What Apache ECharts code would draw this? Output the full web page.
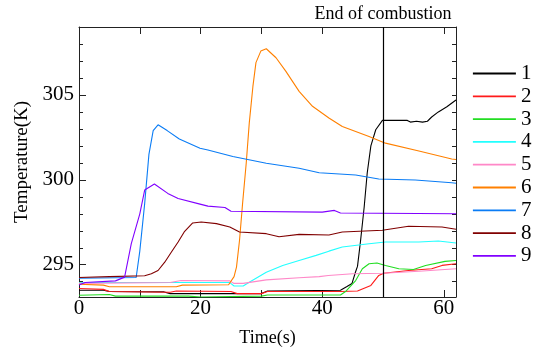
<!DOCTYPE html>
<html>
<head>
<meta charset="utf-8">
<script src="https://cdn.jsdelivr.net/npm/echarts@6/dist/echarts.min.js"></script>
<style>
  html, body { margin: 0; padding: 0; background: #fff; }
  #chart { width: 534px; height: 356px; }
</style>
</head>
<body>
<div id="chart"></div>
<script>
// Temperature traces, [time (s), temperature (K)]
const s1 = [[0,293.5],[4,293.5],[5,293.42],[14,293.4],[15,293.3],[30,293.3],[31,293.45],[43,293.5],[44,293.7],[44.9,293.9],[45.5,294.6],[45.8,294.9],[46.3,296.4],[46.9,298.4],[47.4,300.4],[48,302],[48.8,302.95],[49.9,303.5],[54,303.5],[54.5,303.4],[55.5,303.45],[56.5,303.4],[57.3,303.45],[58,303.7],[59.1,304.0],[60.5,304.3],[62,304.7]];
const s2 = [[0,293.6],[4,293.55],[5,293.42],[15,293.38],[16,293.45],[25,293.42],[26,293.3],[30,293.3],[31,293.42],[43,293.42],[45.8,293.45],[48,293.78],[49.3,294.37],[50.1,294.5],[54.2,294.66],[58,294.76],[59.7,294.96],[62,295.06]];
const s3 = [[0,293.2],[5,293.25],[6,293.15],[18,293.15],[20,293.1],[30,293.15],[31,293.22],[43,293.22],[43.9,293.44],[45.5,294.07],[46.6,294.76],[47.7,295.06],[49,295.1],[50.4,294.96],[52.6,294.76],[55,294.72],[57,294.96],[60.2,295.2],[62,295.25]];
const s4 = [[0,293.95],[24.8,293.95],[25.5,293.75],[27,293.75],[28,293.97],[30.8,294.56],[33.5,294.96],[36.2,295.25],[39,295.55],[41.1,295.8],[43.3,296.04],[47.7,296.24],[50.4,296.34],[55.9,296.34],[59.1,296.4],[62,296.28]];
const s5 = [[0,293.9],[15,293.95],[16.8,294.07],[24.8,294.05],[25.5,293.9],[27,293.9],[30.8,294.11],[36.2,294.23],[39.5,294.3],[41,294.37],[45,294.47],[49.9,294.5],[55.9,294.62],[62,294.76]];
const s6 = [[0,293.85],[4,293.8],[5,293.7],[16,293.7],[17,293.8],[24.6,293.82],[25.5,294.3],[25.9,294.86],[26.4,296.44],[26.9,298.6],[27.5,300.98],[28,303.34],[28.6,305.5],[29.1,306.9],[29.9,307.58],[30.8,307.72],[32.4,307.19],[34,306.4],[36.2,305.21],[38.4,304.33],[41.1,303.64],[43.3,303.14],[47.7,302.55],[50.4,302.16],[55.9,301.7],[61.3,301.23],[62,301.2]];
const s7 = [[0,294.2],[9.4,294.25],[10,295.8],[10.8,298.6],[11.5,301.5],[12.2,302.9],[13,303.24],[14.5,302.9],[16.5,302.4],[19.9,301.86],[21.2,301.76],[25.3,301.37],[30.8,300.98],[36.2,300.68],[39.5,300.42],[45.5,300.28],[49.3,300.05],[55.3,299.99],[61.3,299.83],[62,299.8]];
const s8 = [[0,294.25],[5,294.3],[10.8,294.35],[11.9,294.47],[13,294.66],[14.1,295.15],[15.2,295.75],[16.3,296.34],[17.3,296.93],[18.7,297.46],[20.1,297.52],[22.6,297.42],[24.8,297.22],[26.4,296.93],[30.8,296.83],[32.9,296.65],[36.2,296.79],[41.1,296.75],[43.3,296.93],[49.9,297.03],[54.2,297.27],[59.7,297.22],[62,297.09]];
const s9 = [[0,293.8],[1,293.95],[6,294.05],[7.5,294.27],[8.6,296.24],[10,298.0],[10.8,299.4],[12.4,299.75],[14.6,299.2],[16.3,298.9],[19.9,298.57],[21.2,298.45],[24,298.37],[25,298.15],[40,298.1],[42,298.2],[43,298.05],[62,298.0]];

const seriesNames = ['1', '2', '3', '4', '5', '6', '7', '8', '9'];
const seriesData = [s1, s2, s3, s4, s5, s6, s7, s8, s9];
const seriesColors = ['#000000', '#ff1a1a', '#22dd22', '#22ffff', '#ff88c8', '#ff8000', '#0a7cf5', '#800000', '#8000ff'];

const yMajor = [295, 300, 305];
const yMinor = [294, 296, 297, 298, 299, 301, 302, 303, 304, 306, 307, 308];
const combustionEnd = 50;

const font = 'Liberation Serif';
const frame = '#222';

const chart = echarts.init(document.getElementById('chart'));

const series = seriesNames.map((name, i) => {
  const s = {
    name,
    type: 'line',
    data: seriesData[i],
    symbol: 'none',
    color: seriesColors[i],
    lineStyle: { width: 1.1, color: seriesColors[i] },
    animation: false
  };
  if (i === 0) {
    s.markLine = {
      silent: true,
      symbol: ['none', 'none'],
      lineStyle: { color: '#000', width: 1.2, type: 'solid' },
      label: {
        show: true,
        position: 'end',
        formatter: 'End of combustion',
        fontFamily: font,
        fontSize: 18,
        color: '#000',
        distance: 4
      },
      data: [{ xAxis: combustionEnd }]
    };
  }
  return s;
});

const option = {
  animation: false,
  grid: { left: 79, right: 78, top: 27, bottom: 59 },
  legend: {
    orient: 'vertical',
    left: 472,
    top: 63,
    padding: 0,
    itemWidth: 43,
    itemHeight: 10,
    itemGap: 1.8,
    data: seriesNames,
    itemStyle: { opacity: 0 },
    lineStyle: { width: 1.8 },
    textStyle: { fontFamily: font, fontSize: 21, color: '#000', lineHeight: 21 }
  },
  xAxis: [
    {
      type: 'value',
      min: 0,
      max: 62,
      interval: 10,
      name: 'Time(s)',
      nameLocation: 'middle',
      nameGap: 32,
      nameTextStyle: { fontFamily: font, fontSize: 18, color: '#000' },
      axisLine: { show: true, lineStyle: { color: frame, width: 1 } },
      axisTick: { show: true, inside: true, length: 7, lineStyle: { color: frame } },
      axisLabel: {
        fontFamily: font, fontSize: 21, color: '#000', margin: 1,
        formatter: v => (v % 20 === 0 ? String(v) : '')
      },
      splitLine: { show: false }
    },
    {
      type: 'value',
      position: 'top',
      min: 0,
      max: 62,
      interval: 10,
      axisLine: { show: true, lineStyle: { color: frame, width: 1 } },
      axisTick: { show: true, inside: true, length: 7, lineStyle: { color: frame } },
      axisLabel: { show: false },
      splitLine: { show: false }
    }
  ],
  yAxis: [
    {
      type: 'value',
      position: 'left',
      min: 293.1,
      max: 309,
      name: 'Temperature(K)',
      nameLocation: 'middle',
      nameGap: 36,
      nameTextStyle: { fontFamily: font, fontSize: 19, color: '#000' },
      axisLine: { show: true, lineStyle: { color: frame, width: 1 } },
      axisTick: { show: true, inside: true, length: 7, customValues: yMajor, lineStyle: { color: frame } },
      axisLabel: { fontFamily: font, fontSize: 21, color: '#000', margin: 5, customValues: yMajor },
      splitLine: { show: false }
    },
    {
      type: 'value',
      position: 'left',
      min: 293.1,
      max: 309,
      axisLine: { show: false },
      axisTick: { show: true, inside: true, length: 4, customValues: yMinor, lineStyle: { color: frame } },
      axisLabel: { show: false },
      splitLine: { show: false }
    },
    {
      type: 'value',
      position: 'right',
      min: 293.1,
      max: 309,
      axisLine: { show: true, lineStyle: { color: frame, width: 1 } },
      axisTick: { show: true, inside: true, length: 4, customValues: yMajor.concat(yMinor), lineStyle: { color: frame } },
      axisLabel: { show: false },
      splitLine: { show: false }
    }
  ],
  series
};

chart.setOption(option);
</script>
</body>
</html>
